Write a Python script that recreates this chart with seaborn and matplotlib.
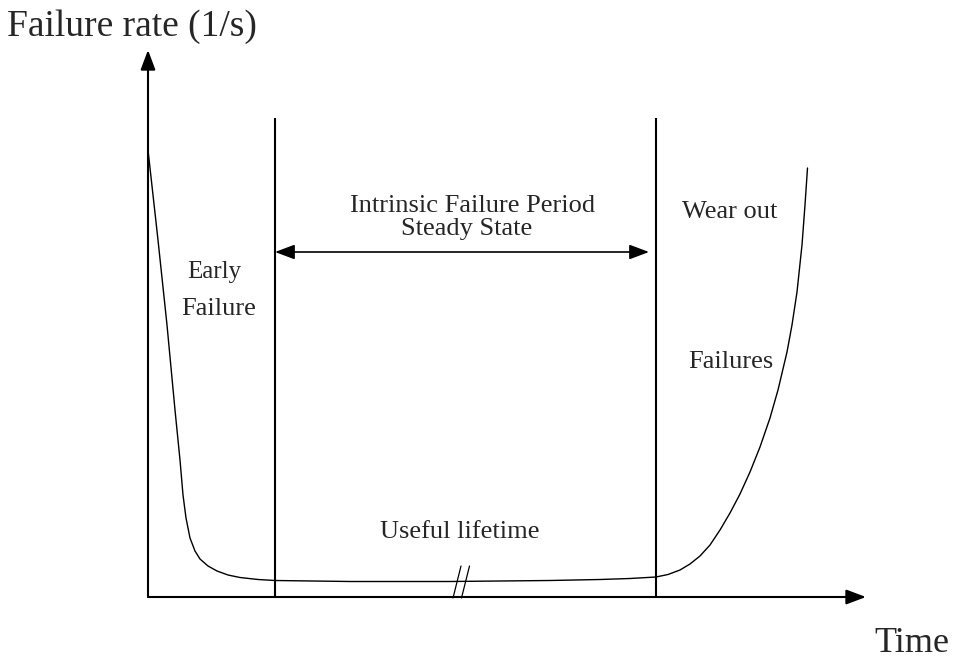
import matplotlib
matplotlib.use("Agg")
import matplotlib.pyplot as plt
import seaborn as sns
import pandas as pd

# Bathtub curve: failure rate over time (arbitrary units)
time = [0, 10, 19, 27, 32, 35, 38, 42, 47, 52, 60, 69, 80, 92, 110, 127,
        202, 302, 402, 452, 482, 508, 520, 532, 542, 552, 562, 572, 582,
        592, 602, 612, 622, 630, 639, 644, 649, 654, 657, 659.5]
failure_rate = [447, 357, 272, 187, 137, 102, 79, 59, 46, 38, 31, 26, 22,
                19.5, 17.5, 16.5, 15.5, 15.5, 16.5, 17.5, 18.5, 20, 22.5, 27,
                33, 41, 52, 67, 84, 103, 125, 150, 179, 207, 245, 272, 305,
                352, 392, 429]

# Boundaries of the three phases and the height of the divider lines
phase_bounds = [127, 508]
divider_top = 479
steady_arrow_level = 345
steady_arrow_end = 501

# Axis extents
time_axis_end = 718
rate_axis_end = 547

# Time-axis break marker on the flat part of the curve
break_centers = [309, 317.5]
break_half_width = 4
break_half_height = 16

df = pd.DataFrame({"time": time, "rate": failure_rate})

sns.set_theme(style="white")
plt.rcParams["font.family"] = ["Liberation Serif", "DejaVu Serif"]

fig = plt.figure(figsize=(9.57, 6.63), dpi=100)
ax = fig.add_axes([0, 0, 1, 1])
ax.set_xlim(-148, 809)
ax.set_ylim(-66, 597)
ax.axis("off")

# Curve
sns.lineplot(data=df, x="time", y="rate", ax=ax, color="black", lw=1.0,
             sort=False, estimator=None)

# Axes with arrowheads
axis_style = dict(arrowstyle="-|>,head_length=0.8,head_width=0.3",
                  mutation_scale=15, lw=1.5, color="black",
                  shrinkA=0, shrinkB=0)
ax.annotate("", xy=(0, rate_axis_end), xytext=(0, 0), arrowprops=axis_style)
ax.annotate("", xy=(time_axis_end, 0), xytext=(0, 0), arrowprops=axis_style)

# Phase dividers
ax.vlines(phase_bounds, 0, divider_top, color="black", lw=1.5)

# Steady-state span arrow
ax.annotate("", xy=(steady_arrow_end, steady_arrow_level),
            xytext=(phase_bounds[0], steady_arrow_level),
            arrowprops=dict(arrowstyle="<|-|>,head_length=0.8,head_width=0.3",
                            mutation_scale=15, lw=1.2, color="black",
                            shrinkA=0, shrinkB=0))

# Break marks
for c in break_centers:
    ax.plot([c + break_half_width, c - break_half_width],
            [break_half_height + 15, -1], color="black", lw=0.9)

big = 27
small = 19
ax.text(-141, 561, "Failure rate (1/s)", fontsize=big, ha="left", va="baseline")
ax.text(726, -55, "Time", fontsize=big - 1, ha="left", va="baseline")
ax.text(325, 385, "Intrinsic Failure Period", fontsize=small, ha="center", va="baseline")
ax.text(319, 362, "Steady State", fontsize=small, ha="center", va="baseline")
ax.text(66, 319, "Early", fontsize=small - 1, ha="center", va="baseline")
ax.text(71, 282, "Failure", fontsize=small, ha="center", va="baseline")
ax.text(629, 379, "Wear out", fontsize=small, ha="right", va="baseline")
ax.text(625, 229, "Failures", fontsize=small, ha="right", va="baseline")
ax.text(312, 59, "Useful lifetime", fontsize=small, ha="center", va="baseline")

fig.savefig("out.png", dpi=100)
